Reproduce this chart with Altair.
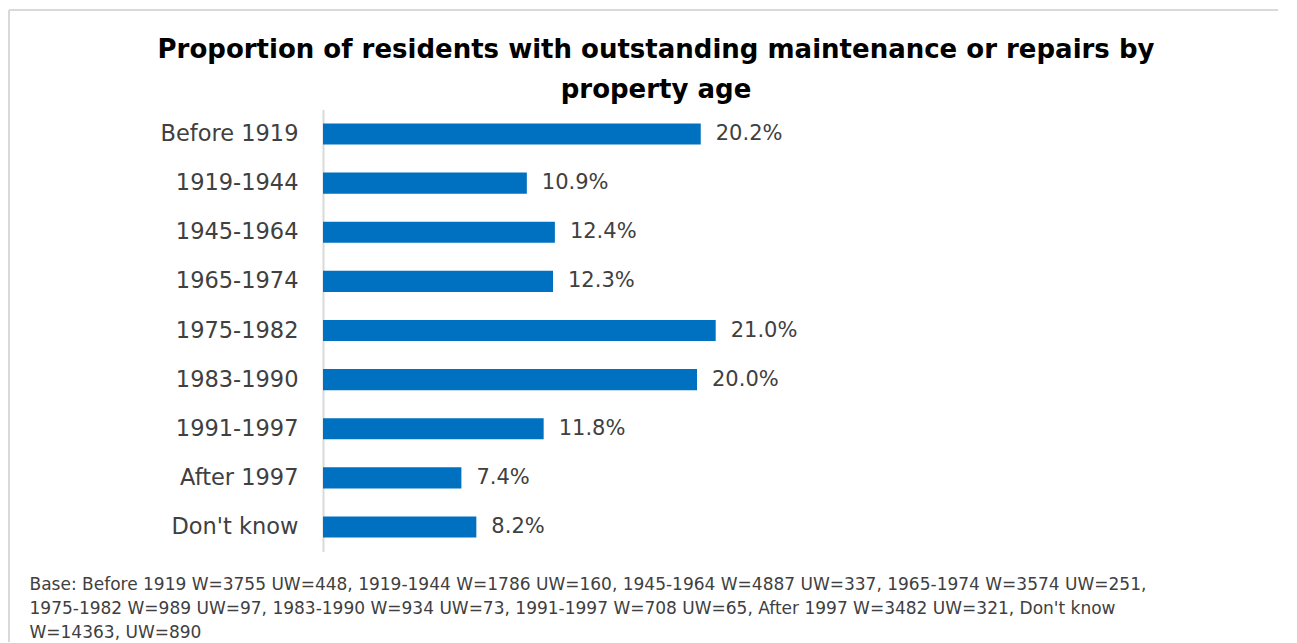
import altair as alt
import pandas as pd

categories = ["Before 1919", "1919-1944", "1945-1964", "1965-1974", "1975-1982",
              "1983-1990", "1991-1997", "After 1997", "Don't know"]
values = [20.2, 10.9, 12.4, 12.3, 21.0, 20.0, 11.8, 7.4, 8.2]

title_lines = ["Proportion of residents with outstanding maintenance or repairs by",
               "property age"]
footnote_lines = [
    "Base: Before  1919 W=3755 UW=448, 1919-1944 W=1786 UW=160, 1945-1964 W=4887 UW=337, 1965-1974 W=3574 UW=251,",
    "1975-1982 W=989 UW=97, 1983-1990 W=934 UW=73, 1991-1997 W=708 UW=65, After 1997 W=3482 UW=321, Don't know",
    "W=14363, UW=890",
]

df = pd.DataFrame({"cat": categories, "v": values})
one = pd.DataFrame({"t1": [title_lines[0]], "t2": [title_lines[1]]})

FONT = "DejaVu Sans"
W, H = 935, 442

base = alt.Chart(df)

bars = base.mark_bar(color="#0070C0").encode(
    y=alt.Y("cat:N", sort=categories,
            scale=alt.Scale(paddingInner=0.57, paddingOuter=0.285),
            axis=alt.Axis(title=None, ticks=False, labelPadding=25, labelFontSize=22.5,
                          labelFont=FONT, labelColor="#404040", domainColor="#d9d9d9",
                          domainWidth=2)),
    x=alt.X("v:Q", scale=alt.Scale(domain=[0, 50], nice=False),
            axis=alt.Axis(domain=False, labels=False, ticks=False, grid=False,
                          title=footnote_lines, titleFont=FONT, titleFontSize=17,
                          titleFontWeight="normal", titleColor="#404040",
                          titleAlign="left", titleAnchor="start", titleAngle=0,
                          titleBaseline="top", titleLineHeight=24,
                          titleX=-294, titleY=25)),
)

labels = base.transform_calculate(
    lab="format(datum.v, '.1f') + '%'"
).mark_text(align="left", baseline="middle", dx=15, font=FONT, fontSize=21,
            color="#404040").encode(
    y=alt.Y("cat:N", sort=categories),
    x="v:Q",
    text="lab:N",
)

tb = alt.Chart(one)
title1 = tb.mark_text(font=FONT, fontSize=26, fontWeight="bold", color="#000000",
                      align="center", baseline="middle").encode(
    x=alt.value(333), y=alt.value(-59.5), text="t1:N")
title2 = tb.mark_text(font=FONT, fontSize=26, fontWeight="bold", color="#000000",
                      align="center", baseline="middle").encode(
    x=alt.value(333), y=alt.value(-19.5), text="t2:N")

border_top = tb.mark_rule(color="#d9d9d9", strokeWidth=2).encode(
    x=alt.value(-314), x2=alt.value(W + 100), y=alt.value(-99.5))
border_left = tb.mark_rule(color="#d9d9d9", strokeWidth=2).encode(
    x=alt.value(-314), y=alt.value(-99.5), y2=alt.value(H + 120))

chart = alt.layer(border_top, border_left, title1, title2, bars, labels).properties(
    width=W, height=H,
    autosize="none",
    padding={"left": 315, "top": 101.5, "right": 20, "bottom": 90},
).configure_view(stroke=None)

chart.save("out.html", embed_options={"renderer": "svg", "actions": False})
